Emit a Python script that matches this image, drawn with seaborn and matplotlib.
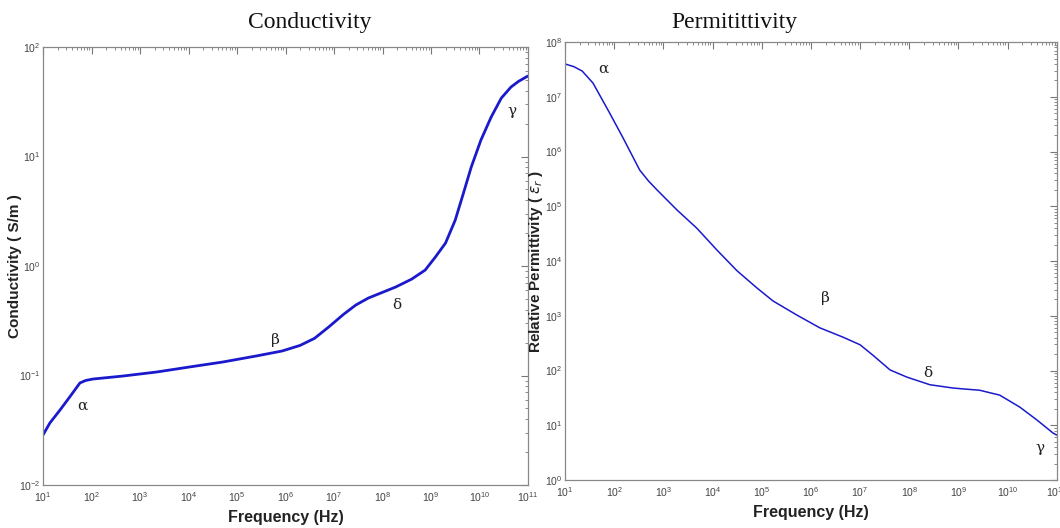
import numpy as np
import pandas as pd
import matplotlib
matplotlib.use("Agg")
import matplotlib.pyplot as plt
from matplotlib.ticker import LogLocator, NullFormatter
import seaborn as sns

# Conductivity spectrum (log10 of frequency in Hz, log10 of S/m)
cond_logf = [1.00, 1.14, 1.35, 1.55, 1.76, 1.88, 2.03, 2.64, 3.34, 4.02, 4.70,
             5.39, 5.93, 6.30, 6.60, 6.89, 7.20, 7.45, 7.71, 8.27, 8.60, 8.88,
             9.09, 9.30, 9.50, 9.67, 9.83, 10.03, 10.24, 10.45, 10.65, 10.80,
             10.96, 11.00]
cond_logs = [-1.543, -1.434, -1.315, -1.196, -1.068, -1.045, -1.032, -1.005,
             -0.968, -0.922, -0.877, -0.822, -0.776, -0.725, -0.660, -0.557,
             -0.440, -0.356, -0.292, -0.192, -0.120, -0.037, 0.082, 0.210,
             0.420, 0.667, 0.904, 1.151, 1.360, 1.534, 1.635, 1.685, 1.726,
             1.735]

# Relative permittivity spectrum (log10 of frequency in Hz, log10 of eps_r)
perm_logf = [1.00, 1.18, 1.35, 1.57, 1.91, 2.18, 2.52, 2.70, 2.87, 3.28, 3.68,
             4.09, 4.50, 4.90, 5.23, 5.72, 6.18, 6.65, 7.00, 7.26, 7.61, 7.95,
             8.42, 8.89, 9.15, 9.43, 9.84, 10.25, 10.59, 10.92, 11.00]
perm_loge = [7.60, 7.55, 7.47, 7.25, 6.70, 6.25, 5.66, 5.46, 5.30, 4.93, 4.60,
             4.20, 3.82, 3.51, 3.27, 3.01, 2.78, 2.61, 2.47, 2.28, 2.01, 1.88,
             1.74, 1.68, 1.66, 1.64, 1.55, 1.33, 1.10, 0.86, 0.82]

# Dispersion region labels: (symbol, log10 f, log10 value)
cond_marks = [("α", 1.82, -1.28), ("β", 5.80, -0.676),
              ("δ", 8.29, -0.356), ("γ", 10.67, 1.42)]
perm_marks = [("α", 1.79, 7.52), ("β", 6.30, 3.32),
              ("δ", 8.38, 1.95), ("γ", 10.65, 0.58)]

cond = pd.DataFrame({"freq": np.power(10.0, cond_logf),
                     "value": np.power(10.0, cond_logs)})
perm = pd.DataFrame({"freq": np.power(10.0, perm_logf),
                     "value": np.power(10.0, perm_loge)})

sns.set_style("white")
plt.rcParams["font.family"] = ["Liberation Sans", "DejaVu Sans"]
plt.rcParams["mathtext.fontset"] = "dejavusans"

fig = plt.figure(figsize=(10.6, 5.28), dpi=100)
ax1 = fig.add_axes([0.0406, 0.0814, 0.4575, 0.8295])
ax2 = fig.add_axes([0.533, 0.0909, 0.464, 0.8295])

line_color = "#1a1acc"
sns.lineplot(data=cond, x="freq", y="value", ax=ax1, color=line_color,
             linewidth=2.0)
sns.lineplot(data=perm, x="freq", y="value", ax=ax2, color=line_color,
             linewidth=1.1)


def style_axis(ax, ylim):
    ax.set_xscale("log")
    ax.set_yscale("log")
    ax.set_xlim(1e1, 1e11)
    ax.set_ylim(*ylim)
    ax.xaxis.set_major_locator(LogLocator(base=10, numticks=20))
    ax.yaxis.set_major_locator(LogLocator(base=10, numticks=20))
    ax.xaxis.set_minor_locator(LogLocator(base=10, subs=np.arange(2, 10), numticks=20))
    ax.yaxis.set_minor_locator(LogLocator(base=10, subs=np.arange(2, 10), numticks=20))
    ax.xaxis.set_minor_formatter(NullFormatter())
    ax.yaxis.set_minor_formatter(NullFormatter())
    ax.tick_params(which="both", direction="in", top=True, right=True,
                   colors="#777777", labelcolor="#444444", labelsize=7.5)
    ax.tick_params(axis="y", which="major", pad=2)
    ax.tick_params(axis="x", which="major", pad=4)
    ax.tick_params(which="major", length=5, width=0.8)
    ax.tick_params(which="minor", length=2.5, width=0.6)
    for sp in ax.spines.values():
        sp.set_color("#888888")
        sp.set_linewidth(0.9)
    ax.set_xlabel("Frequency (Hz)", fontsize=11.5, fontweight="bold",
                  color="#222222")
    ax.xaxis.set_label_coords(0.5, -0.056)


style_axis(ax1, (1e-2, 1e2))
style_axis(ax2, (1e0, 1e8))

ax1.set_ylabel("Conductivity ( S/m )", fontsize=11, fontweight="bold",
               color="#222222")
ax1.yaxis.set_label_coords(-0.044, 0.5)
ax2.set_ylabel(r"Relative Permittivity ( $\varepsilon_r$ )", fontsize=11,
               fontweight="bold", color="#222222")
ax2.yaxis.set_label_coords(-0.04, 0.5)

for ax, marks in ((ax1, cond_marks), (ax2, perm_marks)):
    for sym, lf, lv in marks:
        ax.text(10 ** lf, 10 ** lv, sym, fontsize=11, ha="center",
                va="center", color="#222222", family="DejaVu Serif")

fig.text(0.292, 0.958, "Conductivity", fontsize=17, ha="center",
         va="center", family="Liberation Serif", color="#111111")
fig.text(0.693, 0.958, "Permitittivity", fontsize=17, ha="center",
         va="center", family="Liberation Serif", color="#111111")

fig.savefig("out.png", dpi=100)
